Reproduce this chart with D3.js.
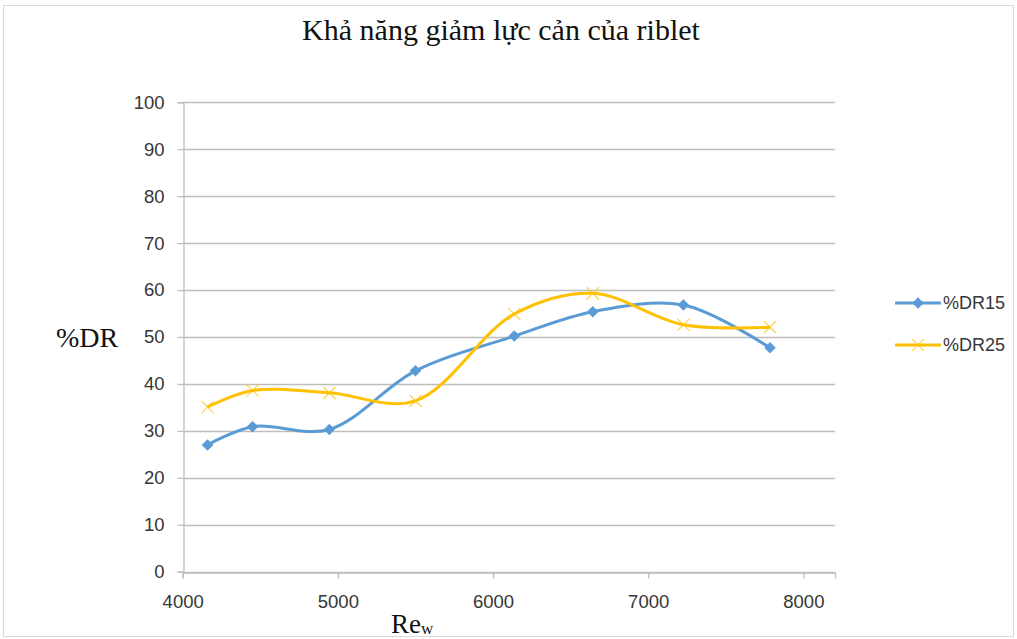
<!DOCTYPE html>
<html>
<head>
<meta charset="utf-8">
<script src="https://cdn.jsdelivr.net/npm/d3@7"></script>
<style>
  html, body { margin: 0; padding: 0; background: #fff; }
  svg { display: block; }
</style>
</head>
<body>
<svg id="chart" width="1017" height="639"></svg>
<script>
// Reynolds number (x) and drag reduction for two riblet sizes
const reynolds = [4160, 4450, 4945, 5500, 6137, 6643, 7227, 7785];
const dr15 = [27.0, 30.9, 30.3, 42.8, 50.2, 55.4, 56.8, 47.7];
const dr25 = [35.1, 38.6, 38.1, 36.4, 54.9, 59.3, 52.6, 52.1];
const seriesNames = ["%DR15", "%DR25"];
const xTicks = [4000, 5000, 6000, 7000, 8000];
const yTicks = [0, 10, 20, 30, 40, 50, 60, 70, 80, 90, 100];

const svg = d3.select("#chart");
const W = 1017, H = 639;

// outer chart frame
svg.append("rect")
  .attr("x", 3.5).attr("y", 5.5)
  .attr("width", W - 7).attr("height", H - 8)
  .attr("fill", "#fff").attr("stroke", "#d9d9d9").attr("stroke-width", 1);

const plot = { left: 182.7, right: 835, top: 102.3, bottom: 571.7 };

const x = d3.scaleLinear().domain([4000, 8204]).range([plot.left, plot.right]);
const y = d3.scaleLinear().domain([0, 100]).range([plot.bottom, plot.top]);

const gridColor = "#bdbdbd";
const tickFont = "'Liberation Sans', Arial, sans-serif";
const textColor = "#363636";

// horizontal gridlines
svg.append("g")
  .selectAll("line")
  .data(yTicks)
  .join("line")
  .attr("x1", plot.left).attr("x2", plot.right)
  .attr("y1", d => Math.round(y(d)) + 0.5).attr("y2", d => Math.round(y(d)) + 0.5)
  .attr("stroke", gridColor).attr("stroke-width", 1.3);

// y axis
const yAxis = svg.append("g")
  .attr("transform", `translate(${Math.round(plot.left) + 0.5},0)`)
  .call(d3.axisLeft(y).tickValues(yTicks).tickSize(6).tickPadding(13).tickFormat(d3.format("d")));
yAxis.select(".domain").attr("stroke", gridColor).attr("stroke-width", 1.3);
yAxis.selectAll(".tick line").attr("stroke", gridColor).attr("stroke-width", 1.3);
yAxis.selectAll("text").attr("font-family", tickFont).attr("font-size", 18.5).attr("fill", textColor);

// x axis
const xAxis = svg.append("g")
  .attr("transform", `translate(0,${Math.round(plot.bottom) + 0.5})`)
  .call(d3.axisBottom(x).tickValues(xTicks).tickSize(6).tickPadding(16).tickFormat(d3.format("d")));
xAxis.select(".domain").attr("stroke", gridColor).attr("stroke-width", 1.3);
xAxis.selectAll(".tick line").attr("stroke", gridColor).attr("stroke-width", 1.3);
xAxis.selectAll("text").attr("font-family", tickFont).attr("font-size", 18.5).attr("fill", textColor);

// smoothed series lines
const line = d3.line()
  .x((d, i) => x(reynolds[i]))
  .y(d => y(d))
  .curve(d3.curveCatmullRom.alpha(0.5));

const blue = "#5b9bd5", gold = "#ffc000";

svg.append("path").datum(dr15)
  .attr("d", line).attr("fill", "none")
  .attr("stroke", blue).attr("stroke-width", 3).attr("stroke-linejoin", "round");
svg.append("path").datum(dr25)
  .attr("d", line).attr("fill", "none")
  .attr("stroke", gold).attr("stroke-width", 3).attr("stroke-linejoin", "round");

// diamond markers
const diamond = d3.symbol().type(d3.symbolDiamond2 || d3.symbolDiamond).size(85);
svg.append("g").selectAll("path")
  .data(dr15)
  .join("path")
  .attr("transform", (d, i) => `translate(${x(reynolds[i])},${y(d)})`)
  .attr("d", diamond)
  .attr("fill", blue);

// cross markers
const cross = d3.symbol().type(d3.symbolX).size(100);
svg.append("g").selectAll("path")
  .data(dr25)
  .join("path")
  .attr("transform", (d, i) => `translate(${x(reynolds[i])},${y(d)})`)
  .attr("d", cross)
  .attr("fill", "none")
  .attr("stroke", gold).attr("stroke-opacity", 0.7).attr("stroke-width", 1.2);

// title
svg.append("text")
  .attr("x", 501).attr("y", 40)
  .attr("text-anchor", "middle")
  .attr("font-family", "'Liberation Serif', 'Times New Roman', serif")
  .attr("font-size", 30).attr("fill", "#111")
  .text("Khả năng giảm lực cản của riblet");

// y axis title
svg.append("text")
  .attr("x", 56).attr("y", 347)
  .attr("font-family", "'Liberation Serif', 'Times New Roman', serif")
  .attr("font-size", 28).attr("fill", "#111")
  .text("%DR");

// x axis title with subscript
const xt = svg.append("text")
  .attr("x", 391).attr("y", 633)
  .attr("font-family", "'Liberation Serif', 'Times New Roman', serif")
  .attr("font-size", 27).attr("fill", "#111");
xt.append("tspan").text("Re");
xt.append("tspan").attr("font-size", 17).attr("dy", 1).text("w");

// legend
const legend = svg.append("g");
const legendY = [303, 345];
const colors = [blue, gold];
seriesNames.forEach((name, i) => {
  const g = legend.append("g").attr("transform", `translate(895,${legendY[i]})`);
  g.append("line").attr("x1", 0).attr("x2", 46).attr("y1", 0).attr("y2", 0)
    .attr("stroke", colors[i]).attr("stroke-width", 3);
  if (i === 0) {
    g.append("path").attr("transform", "translate(23,0)").attr("d", diamond).attr("fill", blue);
  } else {
    g.append("path").attr("transform", "translate(23,0)").attr("d", cross)
      .attr("fill", "none").attr("stroke", gold).attr("stroke-opacity", 0.7).attr("stroke-width", 1.2);
  }
  g.append("text").attr("x", 48).attr("y", 0).attr("dy", "0.36em")
    .attr("font-family", tickFont).attr("font-size", 18).attr("fill", textColor)
    .text(name);
});
</script>
</body>
</html>
